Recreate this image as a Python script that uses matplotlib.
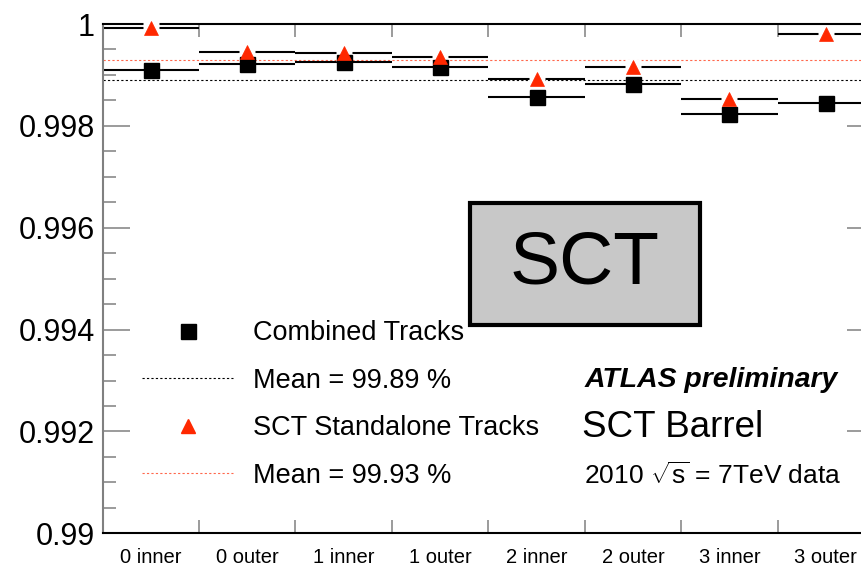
import matplotlib
matplotlib.use("Agg")
import matplotlib.pyplot as plt
from matplotlib.lines import Line2D
from matplotlib.patches import Rectangle
from matplotlib.ticker import FixedLocator, FixedFormatter, MultipleLocator

plt.rcParams['font.family'] = ['Liberation Sans', 'DejaVu Sans']
plt.rcParams['mathtext.fontset'] = 'custom'
plt.rcParams['mathtext.rm'] = 'Liberation Sans'
plt.rcParams['mathtext.it'] = 'Liberation Sans:italic'

# SCT barrel layers
layers = ["0 inner", "0 outer", "1 inner", "1 outer",
          "2 inner", "2 outer", "3 inner", "3 outer"]
# hit efficiency per layer
combined = [0.99909, 0.99922, 0.99925, 0.99916, 0.99857, 0.99883, 0.99823, 0.99845]
standalone = [0.99992, 0.99946, 0.99943, 0.99935, 0.99892, 0.99916, 0.99853, 0.99981]
combined_mean = 0.9989
standalone_mean = 0.9993
y_ticks = [0.990, 0.992, 0.994, 0.996, 0.998, 1.000]
y_ticklabels = ["0.99", "0.992", "0.994", "0.996", "0.998", "1"]

red = "#ff2800"
grey = "#808080"

fig = plt.figure(figsize=(8.62, 5.68), dpi=100)
ax = fig.add_axes([0.1191, 0.0611, 0.8948, 0.8966])

x = [i + 0.5 for i in range(len(layers))]

# mean lines
ax.axhline(combined_mean, color="black", lw=0.8, ls=(0, (2, 2)), zorder=1)
ax.axhline(standalone_mean, color=red, lw=0.8, ls=(0, (2, 2)), alpha=0.7, zorder=1)

# bin-width horizontal bars
ax.errorbar(x, combined, xerr=0.5, fmt="none", ecolor="black", elinewidth=1.5,
            capsize=0, zorder=2, clip_on=False)
ax.errorbar(x, standalone, xerr=0.5, fmt="none", ecolor="black", elinewidth=1.5,
            capsize=0, zorder=2, clip_on=False)

# white gap in the bar around each triangle
ax.plot(x, standalone, ls="none", marker="s", ms=11.5, color="white",
        mec="none", zorder=3, clip_on=False)
ax.plot(x, combined, ls="none", marker="s", ms=10.8, color="black",
        mec="black", zorder=4, clip_on=False)
ax.plot(x, standalone, ls="none", marker="^", ms=10.5, color=red,
        mec=red, mew=0.5, zorder=5, clip_on=False)

ax.set_xlim(0, len(layers))
ax.set_ylim(0.99, 1.0)

# x axis: ticks on bin edges, labels in bin centres
ax.xaxis.set_major_locator(FixedLocator(list(range(1, len(layers)))))
ax.xaxis.set_major_formatter(FixedFormatter([""] * (len(layers) - 1)))
ax.xaxis.set_minor_locator(FixedLocator(x))
ax.xaxis.set_minor_formatter(FixedFormatter(layers))
ax.tick_params(axis="x", which="major", direction="in", length=9.1, width=1.1,
               color=grey, top=True, bottom=True)
ax.tick_params(axis="x", which="minor", length=0, pad=10.5, labelsize=14.5)

# y axis
ax.yaxis.set_major_locator(FixedLocator(y_ticks))
ax.yaxis.set_major_formatter(FixedFormatter(y_ticklabels))
ax.yaxis.set_minor_locator(MultipleLocator(0.0005))
ax.tick_params(axis="y", which="major", direction="in", length=19.4, width=1.1,
               color=grey, left=True, right=True, labelsize=22, pad=5.5)
ax.tick_params(axis="y", which="minor", direction="in", length=9.4, width=1.1,
               color=grey, left=True, right=True)

for side in ["top", "bottom"]:
    ax.spines[side].set_linewidth(1.5)
    ax.spines[side].set_color("black")
ax.spines["left"].set_linewidth(1.5)
ax.spines["left"].set_color(grey)
ax.spines["right"].set_visible(False)

# legend
handles = [
    Line2D([], [], ls="none", marker="s", ms=10.8, color="black"),
    Line2D([], [], color="black", lw=0.8, ls=(0, (2, 2))),
    Line2D([], [], ls="none", marker="^", ms=10.5, color=red),
    Line2D([], [], color=red, lw=0.8, ls=(0, (2, 2)), alpha=0.7),
]
labels = ["Combined Tracks", "Mean = 99.89 %",
          "SCT Standalone Tracks", "Mean = 99.93 %"]
ax.legend(handles, labels, loc="upper left", bbox_to_anchor=(0.051, 0.418),
          frameon=False, fontsize=19.5, handlelength=3.36, handletextpad=0.74,
          labelspacing=0.79, borderpad=0, borderaxespad=0, numpoints=1)

# detector label box
ax.add_patch(Rectangle((0.476, 0.409), 0.298, 0.2395, transform=ax.transAxes,
                       facecolor="#c8c8c8", edgecolor="black", lw=3,
                       clip_on=False, zorder=6))
ax.text(0.625, 0.529, "SCT", transform=ax.transAxes, fontsize=54,
        ha="center", va="center", zorder=7)

ax.text(0.625, 0.3014, "ATLAS preliminary", transform=ax.transAxes,
        fontsize=20.4, fontweight="bold", fontstyle="italic", ha="left", va="center")
ax.text(0.6217, 0.2068, "SCT Barrel", transform=ax.transAxes,
        fontsize=26.5, ha="left", va="center")
ax.text(0.624, 0.1126, r"2010 $\sqrt{\mathrm{s}}$ = 7TeV data", transform=ax.transAxes,
        fontsize=19, ha="left", va="center")

fig.savefig("out.png", dpi=100)
